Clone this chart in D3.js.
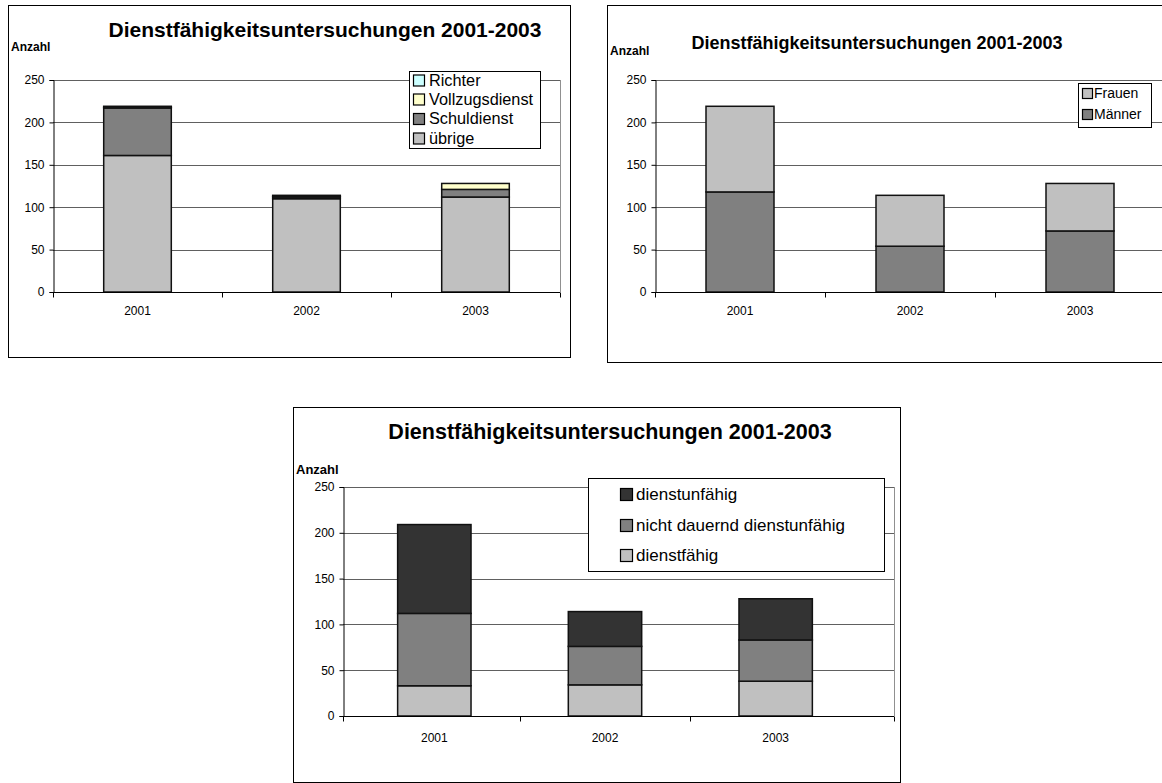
<!DOCTYPE html>
<html>
<head>
<meta charset="utf-8">
<script src="https://cdn.jsdelivr.net/npm/d3@7"></script>
<style>
  html, body { margin: 0; padding: 0; background: #fff; }
  svg { display: block; font-family: "Liberation Sans", Arial, sans-serif; }
</style>
</head>
<body>
<svg id="chart" width="1162" height="783"></svg>
<script>
// ---------- data ----------
const years = ["2001", "2002", "2003"];
const yTicks = [0, 50, 100, 150, 200, 250];
const titleText = "Dienstfähigkeitsuntersuchungen 2001-2003";
const yAxisLabel = "Anzahl";

// chart 1: by service group
const groupNames = ["übrige", "Schuldienst", "Vollzugsdienst", "Richter"];
const uebrige = [161, 110, 112];
const schuldienst = [56, 2, 9];
const vollzugsdienst = [1, 1, 7];
const richter = [1, 1, 0];

// chart 2: by sex
const sexNames = ["Männer", "Frauen"];
const maenner = [118, 54, 72];
const frauen = [101, 60, 56];

// chart 3: by result
const resultNames = ["dienstfähig", "nicht dauernd dienstunfähig", "dienstunfähig"];
const dienstfaehig = [33, 34, 38];
const nichtDauernd = [79, 42, 45];
const dienstunfaehig = [97, 38, 45];

// ---------- drawing ----------
const svg = d3.select("#chart");
svg.append("rect").attr("width", 1162).attr("height", 783).attr("fill", "#fff");

function drawChart(cfg) {
  const g = svg.append("g");
  g.append("rect")
    .attr("x", cfg.box[0] + 0.5).attr("y", cfg.box[1] + 0.5)
    .attr("width", cfg.box[2]).attr("height", cfg.box[3])
    .attr("fill", "#fff").attr("stroke", "#000").attr("stroke-width", 1);

  const x = d3.scaleBand().domain(years).range([cfg.bandStart, cfg.bandEnd])
    .paddingInner(cfg.pad).paddingOuter(cfg.pad / 2);
  const y = d3.scaleLinear().domain([0, 250]).range([cfg.yBottom, cfg.yTop]);

  g.append("g").selectAll("line").data(yTicks.filter(d => d > 0)).join("line")
    .attr("x1", cfg.x0).attr("x2", cfg.plotRight)
    .attr("y1", d => Math.round(y(d)) + 0.5).attr("y2", d => Math.round(y(d)) + 0.5)
    .attr("stroke", "#606060").attr("stroke-width", 1);
  g.append("line")
    .attr("x1", cfg.plotRight + 0.5).attr("x2", cfg.plotRight + 0.5)
    .attr("y1", Math.round(y(250))).attr("y2", Math.round(y(0)))
    .attr("stroke", "#909090").attr("stroke-width", 1);

  const rows = years.map((yr, i) => {
    const r = { year: yr };
    cfg.series.forEach(s => { r[s.name] = s.values[i]; });
    return r;
  });
  const stack = d3.stack().keys(cfg.series.map(s => s.name))(rows);
  const color = d3.scaleOrdinal().domain(cfg.series.map(s => s.name)).range(cfg.series.map(s => s.color));
  g.append("g").selectAll("g").data(stack).join("g")
    .attr("fill", d => color(d.key))
    .selectAll("rect").data(d => d.filter(p => p[1] - p[0] > 0)).join("rect")
    .attr("x", d => x(d.data.year))
    .attr("width", x.bandwidth())
    .attr("y", d => y(d[1]))
    .attr("height", d => y(d[0]) - y(d[1]))
    .attr("stroke", "#111").attr("stroke-width", 1.5);

  const yAxis = d3.axisLeft(y).tickValues(yTicks).tickSize(4).tickPadding(5);
  const ya = g.append("g").attr("transform", `translate(${cfg.x0 + 0.5},0)`).call(yAxis);
  ya.select(".domain").attr("stroke", "#000");
  ya.selectAll(".tick line").attr("stroke", "#000");
  ya.selectAll("text").attr("font-size", cfg.tickFont).attr("fill", "#000")
    .attr("font-family", "Liberation Sans, Arial, sans-serif");

  // category axis: line plus ticks between categories and at the right end
  const xa = g.append("g").attr("transform", `translate(0,${Math.round(y(0)) + 0.5})`);
  xa.append("line").attr("x1", cfg.x0).attr("x2", cfg.plotRight).attr("stroke", "#000");
  const step = x.step();
  const bounds = [cfg.x0].concat(years.slice(1).map(d => x(d) - step * cfg.pad / 2), [cfg.plotRight]);
  xa.selectAll("line.b").data(bounds).join("line").attr("class", "b")
    .attr("x1", d => Math.round(d) + 0.5).attr("x2", d => Math.round(d) + 0.5)
    .attr("y1", 0).attr("y2", 5).attr("stroke", "#000");
  xa.selectAll("text").data(years).join("text")
    .attr("x", d => x(d) + x.bandwidth() / 2).attr("y", cfg.xLabelDy)
    .attr("text-anchor", "middle").attr("font-size", cfg.tickFont).text(d => d);

  g.append("text").attr("x", cfg.titleX).attr("y", cfg.titleY)
    .attr("text-anchor", "middle").attr("font-weight", "bold")
    .attr("font-size", cfg.titleFont).text(titleText);
  g.append("text").attr("x", cfg.box[0] + 3).attr("y", cfg.anzahlY)
    .attr("font-weight", "bold").attr("font-size", cfg.anzahlFont).text(yAxisLabel);

  const L = cfg.legend;
  g.append("rect").attr("x", L.box[0] + 0.5).attr("y", L.box[1] + 0.5)
    .attr("width", L.box[2]).attr("height", L.box[3])
    .attr("fill", "#fff").attr("stroke", "#000");
  const items = cfg.series.slice().reverse();
  const li = g.append("g").selectAll("g").data(items).join("g")
    .attr("transform", (d, i) => `translate(0,${L.rowY[i]})`);
  li.append("rect").attr("x", L.swX + 0.5).attr("y", -L.sw / 2 + 0.5)
    .attr("width", L.sw).attr("height", L.sw)
    .attr("fill", d => d.color).attr("stroke", "#000").attr("stroke-width", 1.2);
  li.append("text").attr("x", L.textX).attr("y", L.font * 0.36)
    .attr("font-size", L.font).text(d => d.name);
}

drawChart({
  box: [8, 5, 562, 352],
  x0: 53, bandStart: 53, bandEnd: 560, plotRight: 560, pad: 0.6, yBottom: 292, yTop: 80,
  tickFont: 12, xLabelDy: 22,
  titleX: 325, titleY: 37, titleFont: 21,
  anzahlY: 51, anzahlFont: 12,
  series: [
    { name: groupNames[0], values: uebrige, color: "#c0c0c0" },
    { name: groupNames[1], values: schuldienst, color: "#808080" },
    { name: groupNames[2], values: vollzugsdienst, color: "#ffffcc" },
    { name: groupNames[3], values: richter, color: "#ccffff" }
  ],
  legend: { box: [409, 71, 131, 77], rowY: [80, 99, 118.5, 138], swX: 413, sw: 11, textX: 429, font: 16.3 }
});

drawChart({
  box: [607, 5, 570, 357],
  x0: 655, bandStart: 655, bandEnd: 1165, plotRight: 1165, pad: 0.6, yBottom: 292, yTop: 80,
  tickFont: 12, xLabelDy: 22,
  titleX: 877, titleY: 49, titleFont: 18,
  anzahlY: 55, anzahlFont: 12,
  series: [
    { name: sexNames[0], values: maenner, color: "#808080" },
    { name: sexNames[1], values: frauen, color: "#c0c0c0" }
  ],
  legend: { box: [1078, 83, 73, 44], rowY: [93, 114], swX: 1082, sw: 10, textX: 1094, font: 14 }
});

drawChart({
  box: [293, 407, 607, 375],
  x0: 343, bandStart: 349, bandEnd: 861, plotRight: 894, pad: 0.57, yBottom: 716, yTop: 487,
  tickFont: 12, xLabelDy: 25,
  titleX: 610, titleY: 439, titleFont: 21.5,
  anzahlY: 474, anzahlFont: 13,
  series: [
    { name: resultNames[0], values: dienstfaehig, color: "#c0c0c0" },
    { name: resultNames[1], values: nichtDauernd, color: "#808080" },
    { name: resultNames[2], values: dienstunfaehig, color: "#333333" }
  ],
  legend: { box: [588, 478, 296, 93], rowY: [494, 525, 555], swX: 620, sw: 12, textX: 636, font: 17 }
});
</script>
</body>
</html>
